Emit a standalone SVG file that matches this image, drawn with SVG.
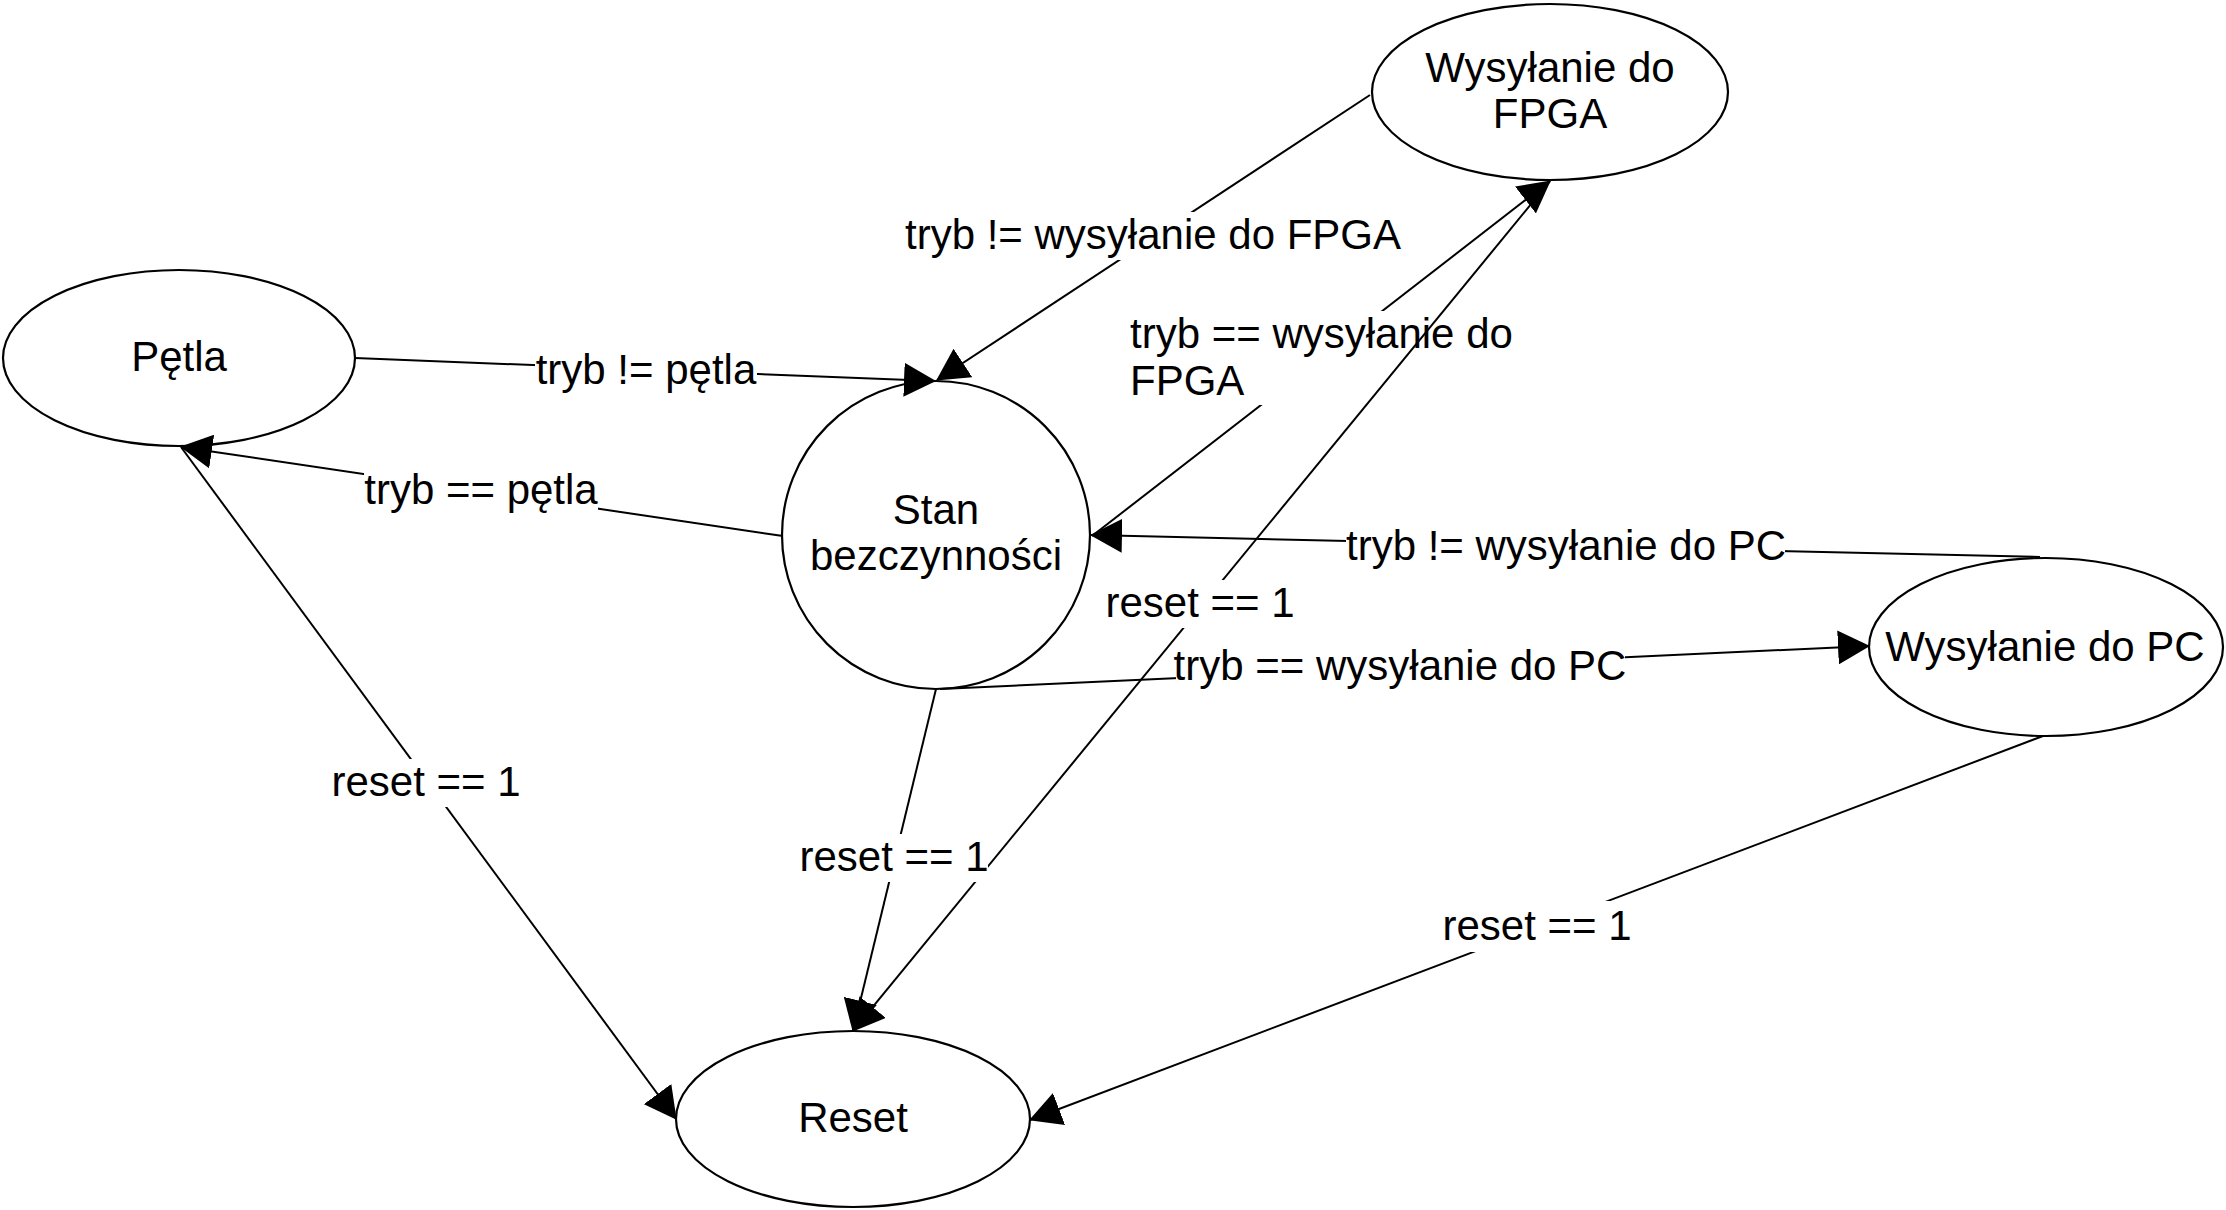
<svg xmlns="http://www.w3.org/2000/svg" width="2226" height="1210" viewBox="0 0 2226 1210">
<style>
  .node { fill: #ffffff; stroke: #000000; stroke-width: 2.2; }
  .edge { fill: none; stroke: #000000; stroke-width: 2; marker-end: url(#arrow); }
  .lbg { fill: #ffffff; stroke: none; }
  text { font-family: "Liberation Sans", Arial, sans-serif; font-size: 42px; fill: #000000; }
  .c { text-anchor: middle; }
</style>
<defs>
  <marker id="arrow" viewBox="0 0 32 34" refX="31" refY="17" markerWidth="32" markerHeight="34" markerUnits="userSpaceOnUse" orient="auto">
    <path d="M0,0 L32,17 L0,34 z" fill="#000000"/>
  </marker>
</defs>
<rect width="2226" height="1210" fill="#ffffff"/>

<g id="node-petla">
  <ellipse class="node" cx="179" cy="358" rx="176" ry="88"/>
  <text class="c" x="179" y="371">Pętla</text>
</g>
<g id="node-stan">
  <circle class="node" cx="936" cy="535" r="154"/>
  <text class="c" x="936" y="524">Stan</text>
  <text class="c" x="936" y="570">bezczynności</text>
</g>
<g id="node-fpga">
  <ellipse class="node" cx="1550" cy="92" rx="178" ry="88"/>
  <text class="c" x="1550" y="82">Wysyłanie do</text>
  <text class="c" x="1550" y="128">FPGA</text>
</g>
<g id="node-pc">
  <ellipse class="node" cx="2046" cy="647" rx="177" ry="89"/>
  <text class="c" x="2045" y="661">Wysyłanie do PC</text>
</g>
<g id="node-reset">
  <ellipse class="node" cx="853" cy="1119" rx="177" ry="88"/>
  <text class="c" x="853" y="1132">Reset</text>
</g>

<g id="connectors">
  <g id="e-petla-stan">
    <line class="edge" x1="355" y1="358" x2="935" y2="381"/>
    <rect class="lbg" x="535" y="347" width="222" height="48"/>
    <text class="c" x="646" y="384">tryb != pętla</text>
  </g>
  <g id="e-stan-petla">
    <line class="edge" x1="783" y1="536" x2="181" y2="447"/>
    <rect class="lbg" x="364" y="467" width="234" height="48"/>
    <text class="c" x="481" y="504">tryb == pętla</text>
  </g>
  <g id="e-fpga-stan">
    <line class="edge" x1="1370" y1="95" x2="937" y2="380"/>
    <rect class="lbg" x="905" y="212" width="496" height="48"/>
    <text class="c" x="1153" y="249">tryb != wysyłanie do FPGA</text>
  </g>
  <g id="e-stan-fpga">
    <line class="edge" x1="1092" y1="536" x2="1550" y2="181"/>
    <rect class="lbg" x="1128" y="311" width="382" height="94"/>
    <text x="1130" y="348">tryb == wysyłanie do</text>
    <text x="1130" y="395">FPGA</text>
  </g>
  <g id="e-fpga-reset">
    <line class="edge" x1="1550" y1="181" x2="853" y2="1031"/>
    <rect class="lbg" x="1107" y="580" width="186" height="48"/>
    <text class="c" x="1200" y="617">reset == 1</text>
  </g>
  <g id="e-pc-stan">
    <line class="edge" x1="2040" y1="557" x2="1091" y2="535"/>
    <rect class="lbg" x="1346" y="523" width="439" height="48"/>
    <text class="c" x="1566" y="560">tryb != wysyłanie do PC</text>
  </g>
  <g id="e-stan-pc">
    <line class="edge" x1="940" y1="689" x2="1869" y2="646"/>
    <rect class="lbg" x="1176" y="643" width="449" height="48"/>
    <text class="c" x="1400" y="680">tryb == wysyłanie do PC</text>
  </g>
  <g id="e-stan-reset">
    <line class="edge" x1="936" y1="689" x2="853" y2="1031"/>
    <rect class="lbg" x="800" y="834" width="188" height="48"/>
    <text class="c" x="894" y="871">reset == 1</text>
  </g>
  <g id="e-petla-reset">
    <line class="edge" x1="181" y1="447" x2="676" y2="1119"/>
    <rect class="lbg" x="333" y="759" width="186" height="48"/>
    <text class="c" x="426" y="796">reset == 1</text>
  </g>
  <g id="e-pc-reset">
    <line class="edge" x1="2043" y1="736" x2="1030" y2="1120"/>
    <rect class="lbg" x="1444" y="901" width="187" height="51"/>
    <text class="c" x="1537" y="940">reset == 1</text>
  </g>
</g>
</svg>
